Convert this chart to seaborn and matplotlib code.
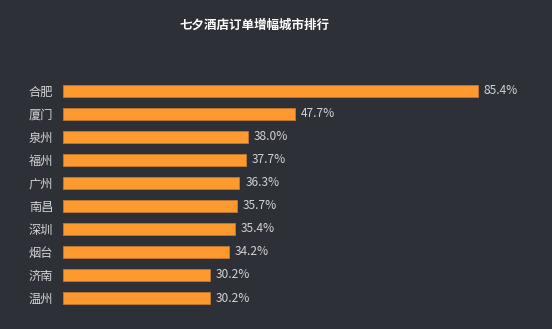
import matplotlib
matplotlib.use("Agg")
import matplotlib.pyplot as plt
import seaborn as sns
import pandas as pd

cities = ["合肥", "厦门", "泉州", "福州", "广州", "南昌", "深圳", "烟台", "济南", "温州"]
growth = [85.4, 47.7, 38.0, 37.7, 36.3, 35.7, 35.4, 34.2, 30.2, 30.2]
title = "七夕酒店订单增幅城市排行"

bg = "#2e3037"
bar_color = "#fd9a2f"
text_color = "#d2d2d2"

sns.set_theme(style="white")
plt.rcParams["font.family"] = ["Noto Sans CJK SC", "DejaVu Sans"]

df = pd.DataFrame({"city": cities, "growth": growth})

fig = plt.figure(figsize=(5.52, 3.29), dpi=100, facecolor=bg)
ax = fig.add_axes([63 / 552, 1 - 309.5 / 329, 486 / 552, 230 / 329])
ax.set_facecolor(bg)

sns.barplot(data=df, x="growth", y="city", orient="h", color=bar_color,
            saturation=1, width=0.5, edgecolor="#c8782a", linewidth=0.6, ax=ax)

ax.set_xlim(0, 100)
ax.set_ylim(9.5, -0.5)
for i, v in enumerate(growth):
    ax.text(v + 1.2, i, f"{v:.1f}%", va="center", ha="left",
            color=text_color, fontsize=8.6)

ax.set_xlabel("")
ax.set_ylabel("")
ax.set_xticks([])
ax.tick_params(axis="y", length=0, pad=7, labelsize=8.8, labelcolor=text_color)
for s in ax.spines.values():
    s.set_visible(False)

fig.text(255 / 552, 1 - 25 / 329, title, ha="center", va="center",
         color="white", fontsize=9, fontweight="bold")

fig.savefig("out.png", dpi=100, facecolor=bg)
